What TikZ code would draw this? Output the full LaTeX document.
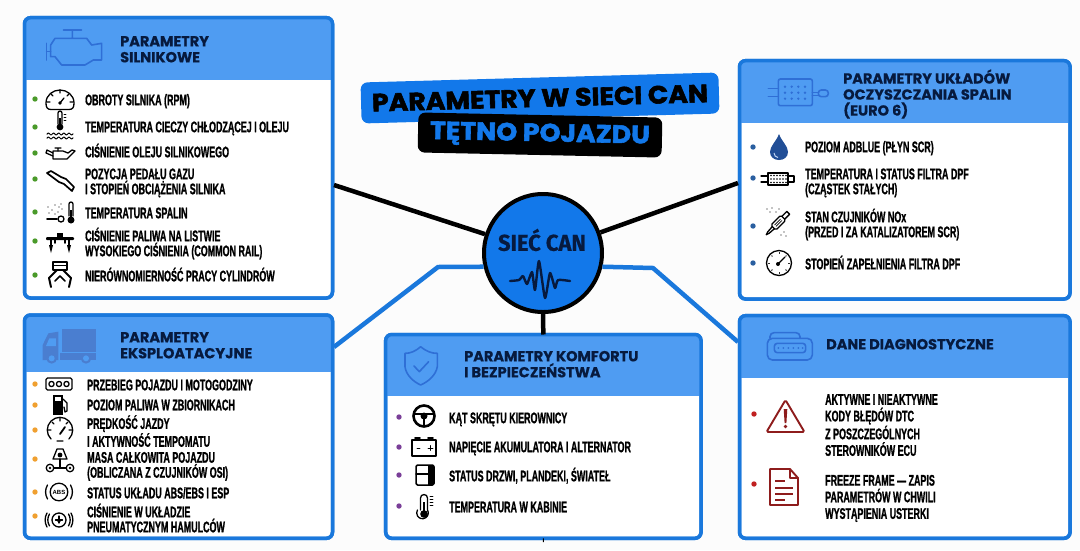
\documentclass[tikz,border=0pt]{standalone}
\usepackage{fontspec}
\setmainfont{Liberation Sans}
\newfontfamily\itemf[FakeStretch=0.58,FakeBold=1.0]{Liberation Sans}
\newfontfamily\headf[FakeBold=0.6]{Poppins}
\newfontfamily\titlef[FakeStretch=1.07,FakeBold=2.2]{Poppins}
\newfontfamily\hubf[FakeStretch=0.95,FakeBold=0.5]{Fira Sans}
\definecolor{bdr}{HTML}{1A78DC}
\definecolor{hdr}{HTML}{4F9CF2}
\definecolor{hic}{HTML}{2F6FD6}
\definecolor{trk}{HTML}{4A7ED0}
\definecolor{navy}{HTML}{071A3E}
\definecolor{hubblue}{HTML}{1278EA}
\definecolor{gr}{HTML}{4A9A2A}
\definecolor{og}{HTML}{F0A030}
\definecolor{pu}{HTML}{7A3F98}
\definecolor{bl}{HTML}{2A5FA0}
\definecolor{rd}{HTML}{C02020}
\definecolor{drk}{HTML}{8E1C1C}
\tikzset{
 panelbox/.style={draw=bdr,line width=3.5pt,rounded corners=6pt,fill=white,inner sep=0pt,outer sep=0pt},
 itemtxt/.style={anchor=west,inner sep=0pt,align=left,font=\itemf\bfseries\fontsize{15.4}{15}\selectfont,text=black},
 itemwide/.style={itemtxt,font=\itemf\bfseries\fontsize{15.4}{16.6}\selectfont},
 headtxt/.style={anchor=west,inner sep=0pt,align=left,font=\headf\bfseries\fontsize{14.5}{16}\selectfont,text=navy},
 ic/.style={line width=1.3pt,draw=black,line join=round,line cap=round},
 hi/.style={line width=1.6pt,draw=hic,line join=round,line cap=round},
 ri/.style={line width=1.9pt,draw=drk,line join=round},
 blackline/.style={draw=black,line width=4.5pt},
 blueline/.style={draw=bdr,line width=4.5pt,line join=miter}
}
\newcommand{\mypanel}[6]{%
 \node[panelbox,minimum width={(#4-#2)*1pt},minimum height={(#5-#3)*1pt}] (#1) at ({(#2+#4)/2},{(#3+#5)/2}) {};
 \begin{scope}
  \clip[rounded corners=6pt] (#1.north west) rectangle (#1.south east);
  \fill[hdr] (#2,#3) rectangle (#4,#6);
 \end{scope}
 \draw[draw=bdr,line width=3.5pt,rounded corners=6pt] (#1.north west) rectangle (#1.south east);
}
\newcommand{\mytxt}[5][itemtxt]{\node[#1] (#2) at (#3,#4) {\lineskiplimit=-99pt\rule{0pt}{13.6pt}#5\rule[-3pt]{0pt}{3pt}};}
\newcommand{\mydot}[3]{\fill[#1] (#2,#3) circle (2.7);}
\begin{document}
\begin{tikzpicture}[x=1pt,y=-1pt]
\useasboundingbox (0,0) rectangle (1080,550);
\fill[fill=black!1] (0,0) rectangle (1080,550);

% ---------- panels
\mypanel{p1}{24.5}{17.7}{332.5}{298}{80}
\mypanel{p2}{24.5}{315}{332.5}{538.3}{372}
\mypanel{p3}{385.7}{334.5}{701}{538.3}{396}
\mypanel{p4}{739.5}{60.7}{1070}{299}{123}
\mypanel{p5}{739.5}{315.7}{1070}{538.3}{378}

% ---------- hub and connectors
\node[circle,draw=black,line width=4pt,fill=hubblue,minimum size=118pt,inner sep=0pt] (hub) at (543,253) {};
\node[inner sep=0pt,font=\hubf\bfseries\fontsize{23}{23}\selectfont,text=navy] (hubt) at (542,240) {SIEĆ CAN};
\draw[navy,line width=2.4pt,line join=round,line cap=round] plot[smooth,tension=.35] coordinates {(510,281)(519,280)(523,276)(527,284)(532,272)(535,290)(539,261)(545,298)(550,273)(555,288)(558,280)(570,281)};
\coordinate (c1) at (334,185);
\coordinate (c4) at (738,183);
\coordinate (c2) at (334,347);
\coordinate (b2) at (438,267);
\coordinate (c5) at (738,342);
\coordinate (b5) at (653,268);
\coordinate (c6) at (543.3,542);
\draw[blackline] (hub) -- (c1);
\draw[blackline] (hub) -- (c4);
\draw[blackline] (hub.south) -- (p3.north);
\draw[blueline] (c2) -- (b2) -- (hub.193);
\draw[blueline] (c5) -- (b5) -- (hub.347);
\draw[black,line width=1pt] (p3.south) -- (c6);

% ---------- title
\node[fill=hubblue,rounded corners=7pt,rotate=1.6,minimum width=358pt,minimum height=41pt,inner sep=0pt,font=\titlef\bfseries\fontsize{25}{25}\selectfont,text=black] (t1) at (540,98) {PARAMETRY W SIECI CAN};
\node[fill=black,rounded corners=7pt,rotate=-1.2,minimum width=244pt,minimum height=40pt,inner sep=0pt,font=\titlef\bfseries\fontsize{25}{25}\selectfont,text=hubblue] (t2) at (540,135) {TĘTNO POJAZDU};

% ---------- panel 1
\mytxt[headtxt]{h1}{120}{49}{PARAMETRY\\SILNIKOWE}
\mytxt{a1}{85}{100}{OBROTY SILNIKA (RPM)}
\mytxt{a2}{85}{127}{TEMPERATURA CIECZY CHŁODZĄCEJ I OLEJU}
\mytxt{a3}{85}{152}{CIŚNIENIE OLEJU SILNIKOWEGO}
\mytxt{a4}{85}{181.5}{POZYCJA PEDAŁU GAZU\\I STOPIEŃ OBCIĄŻENIA SILNIKA}
\mytxt{a5}{85}{213}{TEMPERATURA SPALIN}
\mytxt{a6}{85}{243.5}{CIŚNIENIE PALIWA NA LISTWIE\\WYSOKIEGO CIŚNIENIA (COMMON RAIL)}
\mytxt{a7}{85}{276}{NIERÓWNOMIERNOŚĆ PRACY CYLINDRÓW}
\foreach \yy in {99,127,153,179,212,241,275} {\mydot{gr}{35}{\yy}}
% engine
\begin{scope}[shift={(20,10)},scale=.3333]
 \draw[hi] (130,60)--(185,60) (157,60)--(157,85) (105,85)--(200,85)--(215,105)--(245,100)--(245,150)--(220,150)--(195,165)--(125,165)--(105,140)--(92,140)--(92,105)--cycle;
 \draw[hi] (80,100)--(80,150) (80,125)--(92,125);
\end{scope}
\begin{scope}[shift={(60,100)}]
 \draw[ic] (-9,9.5)--(9,9.5) .. controls (13,9.5) and (14,7) .. (14,3) .. controls (14,-5) and (7,-10) .. (0,-10) .. controls (-7,-10) and (-14,-5) .. (-14,3) .. controls (-14,7) and (-13,9.5) .. (-9,9.5) -- cycle;
 \draw[ic] (0,3)--(4,-2) (0,-10)--(0,-7) (-9,-6)--(-7,-4) (9,-6)--(7,-4) (-13,2)--(-10,2) (13,2)--(10,2);
 \fill (0,3) circle (1.8);
\end{scope}
\begin{scope}[shift={(60,127)}]
 \draw[ic] (-2,-3)--(-2,-14) arc (180:360:2) -- (2,-3);
 \fill (0,0) circle (3.4);
 \fill (-.8,-9) rectangle (.8,0);
 \draw[ic,line width=.7pt] (4,-13)--(6,-13) (4,-10)--(6,-10) (4,-7)--(6,-7);
 \draw[ic,line width=1pt] plot[domain=-13:13,samples=40] (\x,{7+.9*sin(\x*70)});
 \draw[ic,line width=1pt] plot[domain=-13:13,samples=40] (\x,{11+.9*sin(\x*70)});
\end{scope}
\begin{scope}[shift={(60,153)}]
 \draw[ic] (-7,-2)--(3,-2)--(8,0)--(12,-3)--(15,-2)--(7,6)--(-7,6)--cycle;
 \draw[ic] (-7,0)--(-13,-3)--(-14,0)--(-7,3) (-2,-2)--(-2,-5) (-5,-5)--(1,-5);
\end{scope}
\begin{scope}[shift={(60,180)}]
 \draw[ic,line width=1.7pt] (-13,-7)--(-9,-9)--(1,-3)--(6,-1)--(14,7)--(12,11)--(4,4)--(-1,2)--cycle;
\end{scope}
\begin{scope}[shift={(60,213)}]
 \foreach \px/\py in {-12/-6,-8/-3,-5/-8,-1/-6,-11/0,-5/1,-2/-1,1/-9,2/-4} {\fill (\px,\py) circle (.7);}
 \draw[ic,line width=1.8pt] (-13,6)--(-3,6);
 \draw[ic] (1,6) circle (3);
 \draw[ic] (9,3)--(9,-9) arc (180:360:2) -- (13,3);
 \fill (11,7) circle (3.5);
 \fill (10.3,-3) rectangle (11.7,6);
\end{scope}
\begin{scope}[shift={(60,242)}]
 \fill[rounded corners=1pt] (-14,-5) rectangle (14,-2);
 \fill (-3,-9) rectangle (3,-5);
 \draw[ic,line width=1.5pt] (-9,-2)--(-9,3) (9,-2)--(9,3) (-5,-2)--(-5,1)(5,-2)--(5,1);
 \fill (-11,3)--(-7,3)--(-9,11)--cycle;
 \fill (11,3)--(7,3)--(9,11)--cycle;
\end{scope}
\begin{scope}[shift={(60,275)}]
 \draw[ic] (-7,-13) rectangle (7,-5);
 \draw[ic,line width=.8pt] (-7,-10)--(7,-10);
 \draw[ic,line width=2pt] (-3,-5)--(-11,3)--(-9,12) (3,-5)--(11,3)--(9,12);
 \draw[ic,line width=1.6pt] (-5,6)--(0,1)--(5,6);
\end{scope}

% ---------- panel 2
\mytxt[headtxt]{h2}{120}{345}{PARAMETRY\\EKSPLOATACYJNE}
\mytxt{b1}{87}{385}{PRZEBIEG POJAZDU I MOTOGODZINY}
\mytxt{b2t}{87}{405}{POZIOM PALIWA W ZBIORNIKACH}
\mytxt{b3}{87}{432.5}{PRĘDKOŚĆ JAZDY\\I AKTYWNOŚĆ TEMPOMATU}
\mytxt{b4}{87}{465}{MASA CAŁKOWITA POJAZDU\\(OBLICZANA Z CZUJNIKÓW OSI)}
\mytxt{b5t}{87}{493}{STATUS UKŁADU ABS/EBS I ESP}
\mytxt{b6}{87}{519.5}{CIŚNIENIE W UKŁADZIE\\PNEUMATYCZNYM HAMULCÓW}
\foreach \yy in {384,405,430,459,492,516} {\mydot{og}{35}{\yy}}
% truck
\begin{scope}[shift={(20,310)},scale=.3333]
 \fill[trk] (125,58) rectangle (228,125);
 \fill[trk] (120,128) rectangle (228,150);
 \fill[trk] (68,150)--(68,105)--(85,70)--(115,65)--(115,150)--cycle;
 \fill[hdr] (78,108)--(88,85)--(108,85)--(108,108)--cycle;
 \fill[trk] (95,145) circle (16);
 \fill[trk] (198,145) circle (16);
 \fill[hdr] (95,145) circle (9);
 \fill[hdr] (198,145) circle (9);
\end{scope}
\begin{scope}[shift={(59,384)}]
 \draw[ic,rounded corners=1.5pt] (-13,-6) rectangle (13,6);
 \draw[ic] (-7.5,0) circle (2.6) (0,0) circle (2.6) (7.5,0) circle (2.6);
\end{scope}
\begin{scope}[shift={(59,405)}]
 \fill (-6,-10) rectangle (4,10);
 \fill[white] (-4,-8) rectangle (2,-4);
 \draw[ic] (4,-6)--(8,-2)--(8,6)--(6,7)--(5,2);
\end{scope}
\begin{scope}[shift={(60,430)}]
 \draw[ic] (-9,9) arc (135:405:12.7);
 \draw[ic] (-3,11)--(3,11) (-12,0)--(-9,0) (12,0)--(9,0) (0,-12)--(0,-9) (-8,-8)--(-6,-6) (8,-8)--(6,-6);
 \draw[ic,line width=1.8pt] (0,4)--(5,-3);
\end{scope}
\begin{scope}[shift={(60,461)}]
 \draw[ic] (-3,-12)--(3,-12)--(7,-2)--(-7,-2)--cycle;
 \fill (0,-6) circle (2.4);
 \draw[ic] (0,-2)--(0,6) (-10,7)--(10,7);
 \draw[ic,fill=white] (-10,7) circle (3.8) (10,7) circle (3.8);
 \fill (-10,7) circle (1.3) (10,7) circle (1.3);
\end{scope}
\begin{scope}[shift={(59,492)}]
 \draw[ic] (0,0) circle (8.8);
 \draw[ic] (-11.5,-7) arc (211:149:13.5);
 \draw[ic] (11.5,-7) arc (-31:31:13.5);
 \node[inner sep=0pt,font=\fontsize{6}{6}\selectfont\bfseries] (absi) at (0,0) {ABS};
\end{scope}
\begin{scope}[shift={(59,520)}]
 \draw[ic] (0,0) circle (7);
 \draw[ic] (-9.5,-6) arc (212:148:11.2) (9.5,-6) arc (-32:32:11.2);
 \draw[ic] (-12,-7) arc (210:150:14) (12,-7) arc (-30:30:14);
 \draw[ic] (-3.5,0)--(3.5,0) (0,-4)--(0,3);
 \fill (0,1) circle (1.8);
\end{scope}

% ---------- panel 3
\mytxt[headtxt]{h3}{464}{364}{PARAMETRY KOMFORTU\\I BEZPIECZEŃSTWA}
\mytxt{d1}{449}{418}{KĄT SKRĘTU KIEROWNICY}
\mytxt{d2}{449}{447}{NAPIĘCIE AKUMULATORA I ALTERNATOR}
\mytxt{d3}{449}{476}{STATUS DRZWI, PLANDEKI, ŚWIATEŁ}
\mytxt{d4}{449}{507}{TEMPERATURA W KABINIE}
\foreach \yy in {417,447,475,506} {\mydot{pu}{399}{\yy}}
% shield
\begin{scope}[shift={(380,330)},scale=.3333]
 \draw[hi] (122,50) .. controls (105,65) and (90,70) .. (75,70) -- (75,110) .. controls (78,135) and (100,155) .. (122,165) .. controls (145,155) and (168,135) .. (172,110) -- (172,70) .. controls (155,70) and (140,65) .. (122,50) -- cycle;
 \draw[hi] (102,108)--(118,125)--(146,95);
\end{scope}
\begin{scope}[shift={(424,416)}]
 \draw[ic,line width=2.6pt] (0,0) circle (10.5);
 \fill (0,0) circle (3.5);
 \draw[ic,line width=2.4pt] (-10,-2)--(10,-2) (0,0)--(0,10);
\end{scope}
\begin{scope}[shift={(424,447)}]
 \draw[ic] (-12,-7) rectangle (12,9);
 \draw[ic,line width=1.8pt] (-9,-9)--(-4,-9) (4,-9)--(9,-9);
 \draw[ic,line width=.9pt] (-7,1)--(-4,1) (4,1)--(9,1) (6.5,-1.5)--(6.5,3.5);
\end{scope}
\begin{scope}[shift={(425,475)}]
 \draw[ic,rounded corners=1.5pt,line width=1.5pt] (-9,-10) rectangle (9,10);
 \fill (3,-10) rectangle (9,10);
 \draw[ic] (-9,-1)--(3,-1);
\end{scope}
\begin{scope}[shift={(424,507)}]
 \draw[ic] (-3.5,3)--(-3.5,-9) arc (180:360:3.5) -- (3.5,3) arc (-30:210:5.8);
 \fill (0,7) circle (3.8);
 \fill (-1,-5) rectangle (1,6);
 \draw[ic,line width=.9pt] (6,-11)--(9,-11) (6,-8)--(9,-8) (6,-5)--(9,-5) (6,-2)--(9,-2);
\end{scope}

% ---------- panel 4
\mytxt[headtxt]{h4}{843}{94}{PARAMETRY UKŁADÓW\\OCZYSZCZANIA SPALIN\\(EURO 6)}
\mytxt{e1}{805}{147}{POZIOM ADBLUE (PŁYN SCR)}
\mytxt{e2}{805}{181.5}{TEMPERATURA I STATUS FILTRA DPF\\(CZĄSTEK STAŁYCH)}
\mytxt{e3}{805}{224.5}{STAN CZUJNIKÓW NOx\\(PRZED I ZA KATALIZATOREM SCR)}
\mytxt{e4}{805}{264}{STOPIEŃ ZAPEŁNIENIA FILTRA DPF}
\foreach \yy in {147,178,226,263} {\mydot{bl}{753}{\yy}}
% filter
\begin{scope}[shift={(735,55)},scale=.3333]
 \draw[hi,rounded corners=2pt] (130,72) rectangle (232,152);
 \draw[hi] (100,100)--(130,100) (100,125)--(130,125) (232,112)--(250,112) (232,122)--(250,122);
 \draw[hi,rounded corners=3pt] (250,105) rectangle (280,125);
 \foreach \dx in {150,170,190,210} {\foreach \dy in {95,113,131} {\fill[hic] (\dx,\dy) circle (4);}}
\end{scope}
\begin{scope}[shift={(779,147)}]
 \fill[hic!70!black] (0,-13) .. controls (-3,-5) and (-9,-1) .. (-9,5) .. controls (-9,10) and (-5,13) .. (0,13) .. controls (5,13) and (9,10) .. (9,5) .. controls (9,-1) and (3,-5) .. (0,-13) -- cycle;
 \draw[white!70!hic,line width=1pt] (-5,6) .. controls (-5,9) and (-3,10) .. (-1,10.5);
\end{scope}
\begin{scope}[shift={(778,179)}]
 \draw[ic] (-10,-6) rectangle (10,6);
 \draw[ic] (-17,-3)--(-10,-3) (-17,3)--(-10,3);
 \draw[ic] (10,-3) rectangle (16,3);
 \foreach \dx in {-7,-4,-1,2,5,8} {\foreach \dy in {-3.5,0,3.5} {\fill (\dx,\dy) circle (.9);}}
\end{scope}
\begin{scope}[shift={(779,222)}]
 \begin{scope}[rotate=45]
  \draw[ic,rounded corners=1.5pt] (-8,-3.5) rectangle (6,3.5);
  \draw[ic] (6,-2)--(13,-2)--(13,2)--(6,2);
  \draw[ic] (-8,-1.5)--(-15,-1)--(-18,0)--(-15,1)--(-8,1.5);
  \draw[ic,line width=.8pt] (-5,-1)--(3,-1) (-5,1)--(3,1);
 \end{scope}
 \foreach \px/\py in {-12/-13,-9/-10,-7/-14,-3/-10,0/-13,5/10,2/13,7/14} {\fill (\px,\py) circle (.7);}
\end{scope}
\begin{scope}[shift={(779,263)}]
 \draw[ic] (0,0) circle (12.5);
 \draw[ic] (-1,1)--(6,-6);
 \fill (-1,1) circle (2);
 \foreach \aa in {0,45,...,315} {\draw[ic,line width=.9pt] (\aa:9.5)--(\aa:10.5);}
\end{scope}

% ---------- panel 5
\mytxt[headtxt]{h5}{826}{344}{DANE DIAGNOSTYCZNE}
\mytxt[itemwide]{f1}{825}{425}{AKTYWNE I NIEAKTYWNE\\KODY BŁĘDÓW DTC\\Z POSZCZEGÓLNYCH\\STEROWNIKÓW ECU}
\mytxt[itemwide]{f2}{825}{497}{FREEZE FRAME — ZAPIS\\PARAMETRÓW W CHWILI\\WYSTĄPIENIA USTERKI}
\mydot{rd}{754}{414}
\mydot{rd}{754}{484}
% OBD
\begin{scope}[shift={(735,310)},scale=.3333]
 \draw[hi,rounded corners=5pt] (97,150) -- (97,85) -- (232,85) -- (232,150) -- cycle;
 \draw[hi,rounded corners=3pt] (118,100) rectangle (212,128);
 \draw[hi,rounded corners=4pt] (105,85)--(105,68)--(195,68)--(195,85);
 \foreach \dx in {130,145,160,175,190,203} {\fill[hic] (\dx,114) circle (3);}
\end{scope}
\begin{scope}[shift={(785.5,416)}]
 \draw[ri,rounded corners=1.5pt] (0,-16)--(19,16)--(-19,16)--cycle;
 \fill[drk] (-1.8,-7)--(1.8,-7)--(.9,7)--(-.9,7)--cycle;
 \fill[drk] (0,10.5) circle (1.9);
\end{scope}
\begin{scope}[shift={(784,487)}]
 \draw[ri] (6,-18)--(-14,-18)--(-14,18)--(14,18)--(14,-9)--cycle;
 \draw[ri] (6,-18)--(6,-9)--(14,-9);
 \draw[ri] (-9,-6)--(1,-6) (-9,1)--(9,1) (-9,7)--(9,7) (-9,13)--(1,13);
\end{scope}
\end{tikzpicture}
\end{document}
